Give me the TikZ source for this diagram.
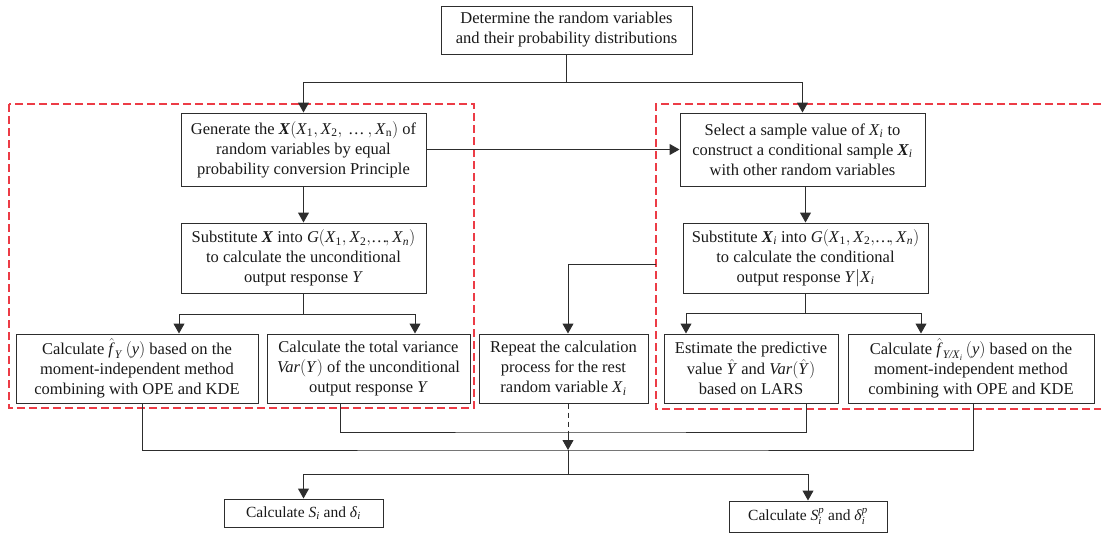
\documentclass[tikz,border=0pt]{standalone}
\usepackage{amsmath}
\usepackage{fontspec}
\setmainfont{Liberation Serif}
\usetikzlibrary{arrows.meta}
\definecolor{boxc}{RGB}{45,45,45}
\definecolor{redd}{RGB}{236,60,70}
\tikzset{
  box/.style={draw=boxc, line width=1pt, align=center, inner sep=0pt, text=black!90,
    font=\fontsize{16.5}{20}\selectfont},
  arr/.style={draw=boxc, line width=1pt, -{Triangle[width=11pt,length=10pt]}},
  ln/.style={draw=boxc, line width=1pt},
  dln/.style={draw=boxc, line width=1pt, dash pattern=on 5pt off 4pt},
  redbox/.style={draw=redd, line width=1.3pt, dash pattern=on 8pt off 4pt},
}
\newcommand{\mi}[1]{\text{\textit{#1}}}
\newcommand{\mb}[1]{\text{\textbf{\textit{#1}}}}
\newcommand{\mr}[1]{\text{#1}}
\newcommand{\tdots}{\text{…}}
\begin{document}
\begin{tikzpicture}[x=1pt,y=-1pt]
\useasboundingbox (0,0) rectangle (1101,533);
% red dashed regions
\draw[redbox] (9,104) rectangle (474,408);
\draw[redbox] (1101,104) -- (656,104) -- (656,409) -- (1101,409);
% nodes
\node[box, minimum width=251pt, minimum height=48pt] (top) at (566.5,30) {Determine the random variables\\and their probability distributions};
\node[box, minimum width=245pt, minimum height=73pt] (gen) at (303.5,149.5) {Generate the $\mb{X}(\mi{X}_{\mr{1}}, \mi{X}_{\mr{2}}, \,\tdots\, , \mi{X}_{\mr{n}})$ of\\random variables by equal\\probability conversion Principle};
\node[box, minimum width=245pt, minimum height=70pt] (sub) at (303.5,258) {Substitute $\mb{X}$ into $\mi{G}(\mi{X}_{\mr{1}}, \mi{X}_{\mr{2}},\!\tdots\!,\mi{X}_{\mi{n}})$\\to calculate the unconditional\\output response $\mi{Y}$};
\node[box, minimum width=242pt, minimum height=69pt] (fy) at (137,368.5) {Calculate $\hat{\mi{f}}_{\mi{Y}}\,(\mi{y})$ based on the\\moment-independent method\\combining with OPE and KDE};
\node[box, minimum width=203pt, minimum height=69pt] (var) at (368.5,368.5) {Calculate the total variance\\$\mi{Var}(\mi{Y})$ of the unconditional\\output response $\mi{Y}$};
\node[box, minimum width=169pt, minimum height=69pt] (rep) at (563.5,368.5) {Repeat the calculation\\process for the rest\\random variable $\mi{X}_{\mi{i}}$};
\node[box, minimum width=245pt, minimum height=73pt] (sel) at (802.5,149.5) {Select a sample value of $\mi{X}_{\mi{i}}$ to\\construct a conditional sample $\mb{X}_{\mi{i}}$\\with other random variables};
\node[box, minimum width=245pt, minimum height=70pt] (sub2) at (805.5,258) {Substitute $\mb{X}_{\mi{i}}$ into $\mi{G}(\mi{X}_{\mr{1}}, \mi{X}_{\mr{2}},\!\tdots\!,\mi{X}_{\mi{n}})$\\to calculate the conditional\\output response $\mi{Y}|\mi{X}_{\mi{i}}$};
\node[box, minimum width=174pt, minimum height=69pt] (est) at (751,368.5) {Estimate the predictive\\[1pt]value $\hat{\mi{Y}}$ and $\mi{Var}(\hat{\mi{Y}})$\\based on LARS};
\node[box, minimum width=246pt, minimum height=69pt] (fyx) at (971,368.5) {Calculate $\hat{\mi{f}}_{\mi{Y/X}_{\mi{i}}}\,(\mi{y})$ based on the\\moment-independent method\\combining with OPE and KDE};
\node[box, minimum width=159pt, minimum height=28pt, font=\fontsize{15.5}{19}\selectfont] (si) at (303.5,513) {Calculate $\mi{S}_{\mi{i}}$ and $\mi{δ}_{\mi{i}}$};
\node[box, minimum width=158pt, minimum height=31pt, font=\fontsize{15.5}{19}\selectfont] (sip) at (808,516.5) {Calculate $\mi{S}_{\mi{i}}^{\mi{p}}$ and $\mi{δ}_{\mi{i}}^{\mi{p}}$};
% coordinates
\coordinate (ts) at (566.5,82);
\coordinate (s1) at (303.5,314);
\coordinate (s2) at (805.5,313);
\coordinate (rj) at (656,264);
\coordinate (m1) at (568,432);
\coordinate (m2) at (568,450);
\coordinate (m3) at (568,474);
% connectors
\draw[ln] (top.south) -- (ts);
\draw[arr] (ts) -| (gen.north);
\draw[arr] (ts) -| (sel.north);
\draw[arr] (gen.east) -- (sel.west);
\draw[arr] (gen.south) -- (sub.north);
\draw[ln] (sub.south) -- (s1);
\draw[arr] (s1) -| ([xshift=42pt]fy.north);
\draw[arr] (s1) -| ([xshift=46.5pt]var.north);
\draw[arr] (sel.south -| sub2.north) -- (sub2.north);
\draw[ln] (sub2.south) -- (s2);
\draw[arr] (s2) -| ([xshift=-65pt]est.north);
\draw[arr] (s2) -| ([xshift=-50pt]fyx.north);
\draw[arr] (rj) -| ([xshift=4.5pt]rep.north);
\draw[dln] ([xshift=4.5pt]rep.south) -- (m1);
\draw[ln] ([xshift=-28.5pt]var.south) |- (m1) -| ([xshift=55pt]est.south);
\draw[ln] ([xshift=5pt]fy.south) |- (m2) -| ([xshift=2pt]fyx.south);
\draw[arr] (m1) -- (m2);
\draw[ln] (m2) -- (m3);
\draw[arr] (m3) -| (si.north);
\draw[arr] (m3) -| (sip.north);
\end{tikzpicture}
\end{document}
